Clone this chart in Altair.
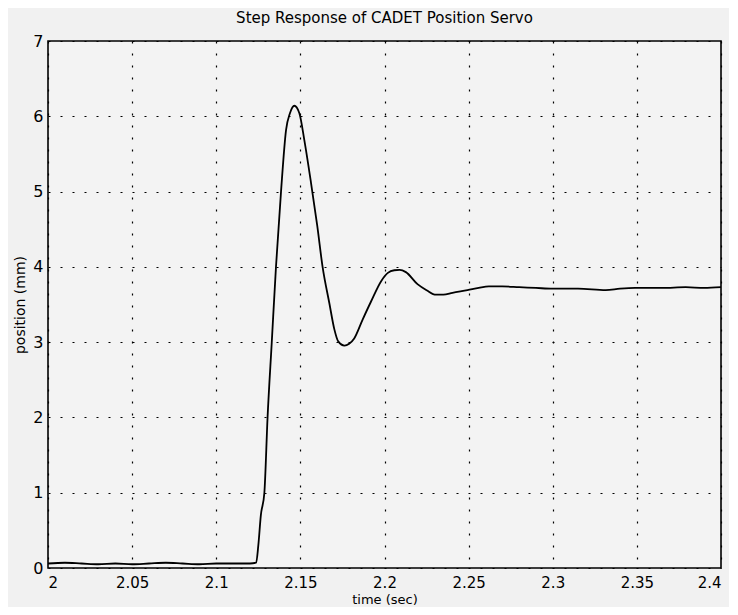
import altair as alt
import pandas as pd

time_s = [2.000, 2.010, 2.020, 2.030, 2.040, 2.050, 2.060, 2.070, 2.080, 2.090,
          2.100, 2.110, 2.120, 2.1237, 2.1250, 2.1265, 2.1286, 2.1305, 2.1330,
          2.1355, 2.1385, 2.1415, 2.1438, 2.1464, 2.1494, 2.1523, 2.1563, 2.1600,
          2.1632, 2.1672, 2.1702, 2.1725, 2.1762, 2.1790, 2.1820, 2.1870, 2.1920,
          2.1980, 2.2020, 2.2058, 2.2090, 2.2127, 2.2196, 2.2250, 2.2306, 2.2350,
          2.2404, 2.2493, 2.2560, 2.2620, 2.2700, 2.2800, 2.2900, 2.3000, 2.3150,
          2.3315, 2.3400, 2.3490, 2.3650, 2.3790, 2.3900, 2.4000]
position_mm = [0.06, 0.07, 0.06, 0.05, 0.06, 0.05, 0.06, 0.07, 0.06, 0.05,
               0.06, 0.06, 0.06, 0.07, 0.30, 0.70, 1.00, 2.00, 3.00,
               4.00, 5.00, 5.82, 6.04, 6.14, 6.04, 5.69, 5.12, 4.55,
               4.00, 3.52, 3.17, 3.01, 2.955, 2.98, 3.05, 3.30, 3.54,
               3.81, 3.92, 3.955, 3.96, 3.93, 3.77, 3.69, 3.63, 3.63,
               3.655, 3.69, 3.72, 3.74, 3.74, 3.73, 3.72, 3.71, 3.71,
               3.69, 3.71, 3.72, 3.72, 3.73, 3.72, 3.73]

x_ticks = [2.0, 2.05, 2.1, 2.15, 2.2, 2.25, 2.3, 2.35, 2.4]
y_ticks = [0, 1, 2, 3, 4, 5, 6, 7]

df = pd.DataFrame({"t": time_s, "pos": position_mm})

FONT = "DejaVu Sans"

chart = alt.Chart(df).mark_line(color="black", strokeWidth=1.8, interpolate="monotone").encode(
    x=alt.X("t:Q", scale=alt.Scale(domain=[2.0, 2.4], nice=False, zero=False),
            axis=alt.Axis(values=x_ticks, title="time (sec)",
                          labelExpr="format(datum.value, '.3~f')")),
    y=alt.Y("pos:Q", scale=alt.Scale(domain=[0, 7], nice=False),
            axis=alt.Axis(values=y_ticks, title="position (mm)")),
).properties(
    width=673, height=527,
    title=alt.TitleParams("Step Response of CADET Position Servo", fontSize=15,
                          font=FONT, fontWeight="normal", color="black",
                          anchor="middle", offset=7),
    padding={"left": 40, "top": 33, "right": 8, "bottom": 39},
    autosize=alt.AutoSizeParams(type="none"),
    background="#f1f1f1",
).configure_view(
    stroke="black", strokeWidth=1.6, fill="#f3f3f3"
).configure_axis(
    grid=True, gridColor="black", gridDash=[2, 10], gridWidth=1.2, gridOpacity=1,
    domain=False, ticks=False,
    labelFont=FONT, labelFontSize=16, labelColor="black",
    titleFont=FONT, titleFontSize=14, titleFontWeight="normal", titleColor="black",
).configure_axisX(titlePadding=3, labelPadding=7, labelFontSize=15,
                  titleFontSize=13).configure_axisY(titlePadding=5, labelPadding=5)

chart.save("out.html", embed_options={"renderer": "svg", "actions": False})
